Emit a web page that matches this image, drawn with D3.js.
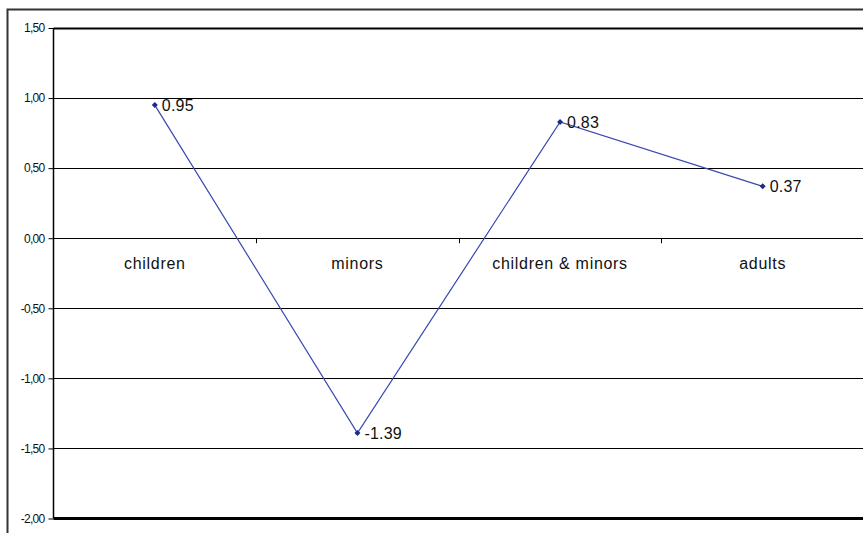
<!DOCTYPE html>
<html>
<head>
<meta charset="utf-8">
<script src="https://cdn.jsdelivr.net/npm/d3@7"></script>
<style>
  html, body { margin: 0; padding: 0; background: #fff; }
  svg { display: block; }
  text { font-family: "Liberation Sans", Arial, sans-serif; fill: #111; }
</style>
</head>
<body>
<svg id="chart" width="863" height="533"></svg>
<script>
// Group mean differences by age category
const categories = ["children", "minors", "children & minors", "adults"];
const values = [0.95, -1.39, 0.83, 0.37];
const valueLabels = ["0.95", "-1.39", "0.83", "0.37"];
const yTicks = [1.5, 1.0, 0.5, 0.0, -0.5, -1.0, -1.5, -2.0];
const yTickLabels = ["1,50", "1,00", "0,50", "0,00", "-0,50", "-1,00", "-1,50", "-2,00"];

const W = 863, H = 533;
const plot = { left: 53.5, right: 864, top: 28, bottom: 518.5 };

const svg = d3.select("#chart");

// outer chart frame
svg.append("path")
  .attr("d", `M7.5,${H + 2} V9.5 H${W + 2}`)
  .attr("fill", "none")
  .attr("stroke", "#333")
  .attr("stroke-width", 2);

const x = d3.scaleBand().domain(categories).range([plot.left, plot.right]);
const y = d3.scaleLinear().domain([-2, 1.5]).range([plot.bottom, plot.top]);

// horizontal gridlines
svg.append("g")
  .selectAll("line")
  .data(yTicks.filter(v => v !== -2))
  .join("line")
  .attr("x1", plot.left).attr("x2", W)
  .attr("y1", d => Math.round(y(d)) + 0.5).attr("y2", d => Math.round(y(d)) + 0.5)
  .attr("stroke", "#000")
  .attr("stroke-width", d => d === 1.5 ? 2 : 1.2);

// bottom edge of the plot
svg.append("line")
  .attr("x1", plot.left).attr("x2", W)
  .attr("y1", y(-2)).attr("y2", y(-2))
  .attr("stroke", "#000").attr("stroke-width", 3);

// value axis
const yAxis = d3.axisLeft(y)
  .tickValues(yTicks)
  .tickFormat((d, i) => yTickLabels[i])
  .tickSize(5)
  .tickPadding(4);

const gy = svg.append("g")
  .attr("transform", `translate(${plot.left},0)`)
  .call(yAxis);
gy.select(".domain").attr("stroke", "#000").attr("stroke-width", 1.5)
  .attr("d", `M0,${plot.top}V${plot.bottom}`);
gy.selectAll(".tick line").attr("stroke", "#000");
gy.selectAll(".tick text")
  .attr("font-size", 12)
  .attr("letter-spacing", -0.7)
  .attr("fill", "#111")
  .style("font-family", "'Liberation Sans', Arial, sans-serif");

// category axis at zero
const xAxis = d3.axisBottom(x).tickSize(0).tickPadding(0);
const gx = svg.append("g")
  .attr("transform", `translate(0,${Math.round(y(0)) + 0.5})`)
  .call(xAxis);
gx.select(".domain").remove();
gx.selectAll(".tick text")
  .attr("y", 19)
  .attr("font-size", 16)
  .attr("letter-spacing", 0.7)
  .attr("fill", "#111")
  .style("font-family", "'Liberation Sans', Arial, sans-serif");

// category boundary tick marks
const bounds = categories.slice(1).map(c => x(c));
svg.append("g")
  .selectAll("line")
  .data(bounds)
  .join("line")
  .attr("x1", d => Math.round(d) + 0.5).attr("x2", d => Math.round(d) + 0.5)
  .attr("y1", y(0)).attr("y2", y(0) + 5)
  .attr("stroke", "#000");

// series line
const cx = c => x(c) + x.bandwidth() / 2;
const line = d3.line()
  .x((d, i) => cx(categories[i]))
  .y(d => y(d));

svg.append("path")
  .datum(values)
  .attr("d", line)
  .attr("fill", "none")
  .attr("stroke", "#3a48b0")
  .attr("stroke-width", 1.2);

// diamond markers
svg.append("g")
  .selectAll("path")
  .data(values)
  .join("path")
  .attr("d", d3.symbol(d3.symbolSquare, 18))
  .attr("transform", (d, i) => `translate(${cx(categories[i])},${y(d)}) rotate(45)`)
  .attr("fill", "#1c2a88");

// value labels
svg.append("g")
  .selectAll("text")
  .data(values)
  .join("text")
  .attr("x", (d, i) => cx(categories[i]) + 7)
  .attr("y", d => y(d))
  .attr("dy", "0.36em")
  .attr("font-size", 16)
  .attr("letter-spacing", 0.2)
  .text((d, i) => valueLabels[i]);
</script>
</body>
</html>
